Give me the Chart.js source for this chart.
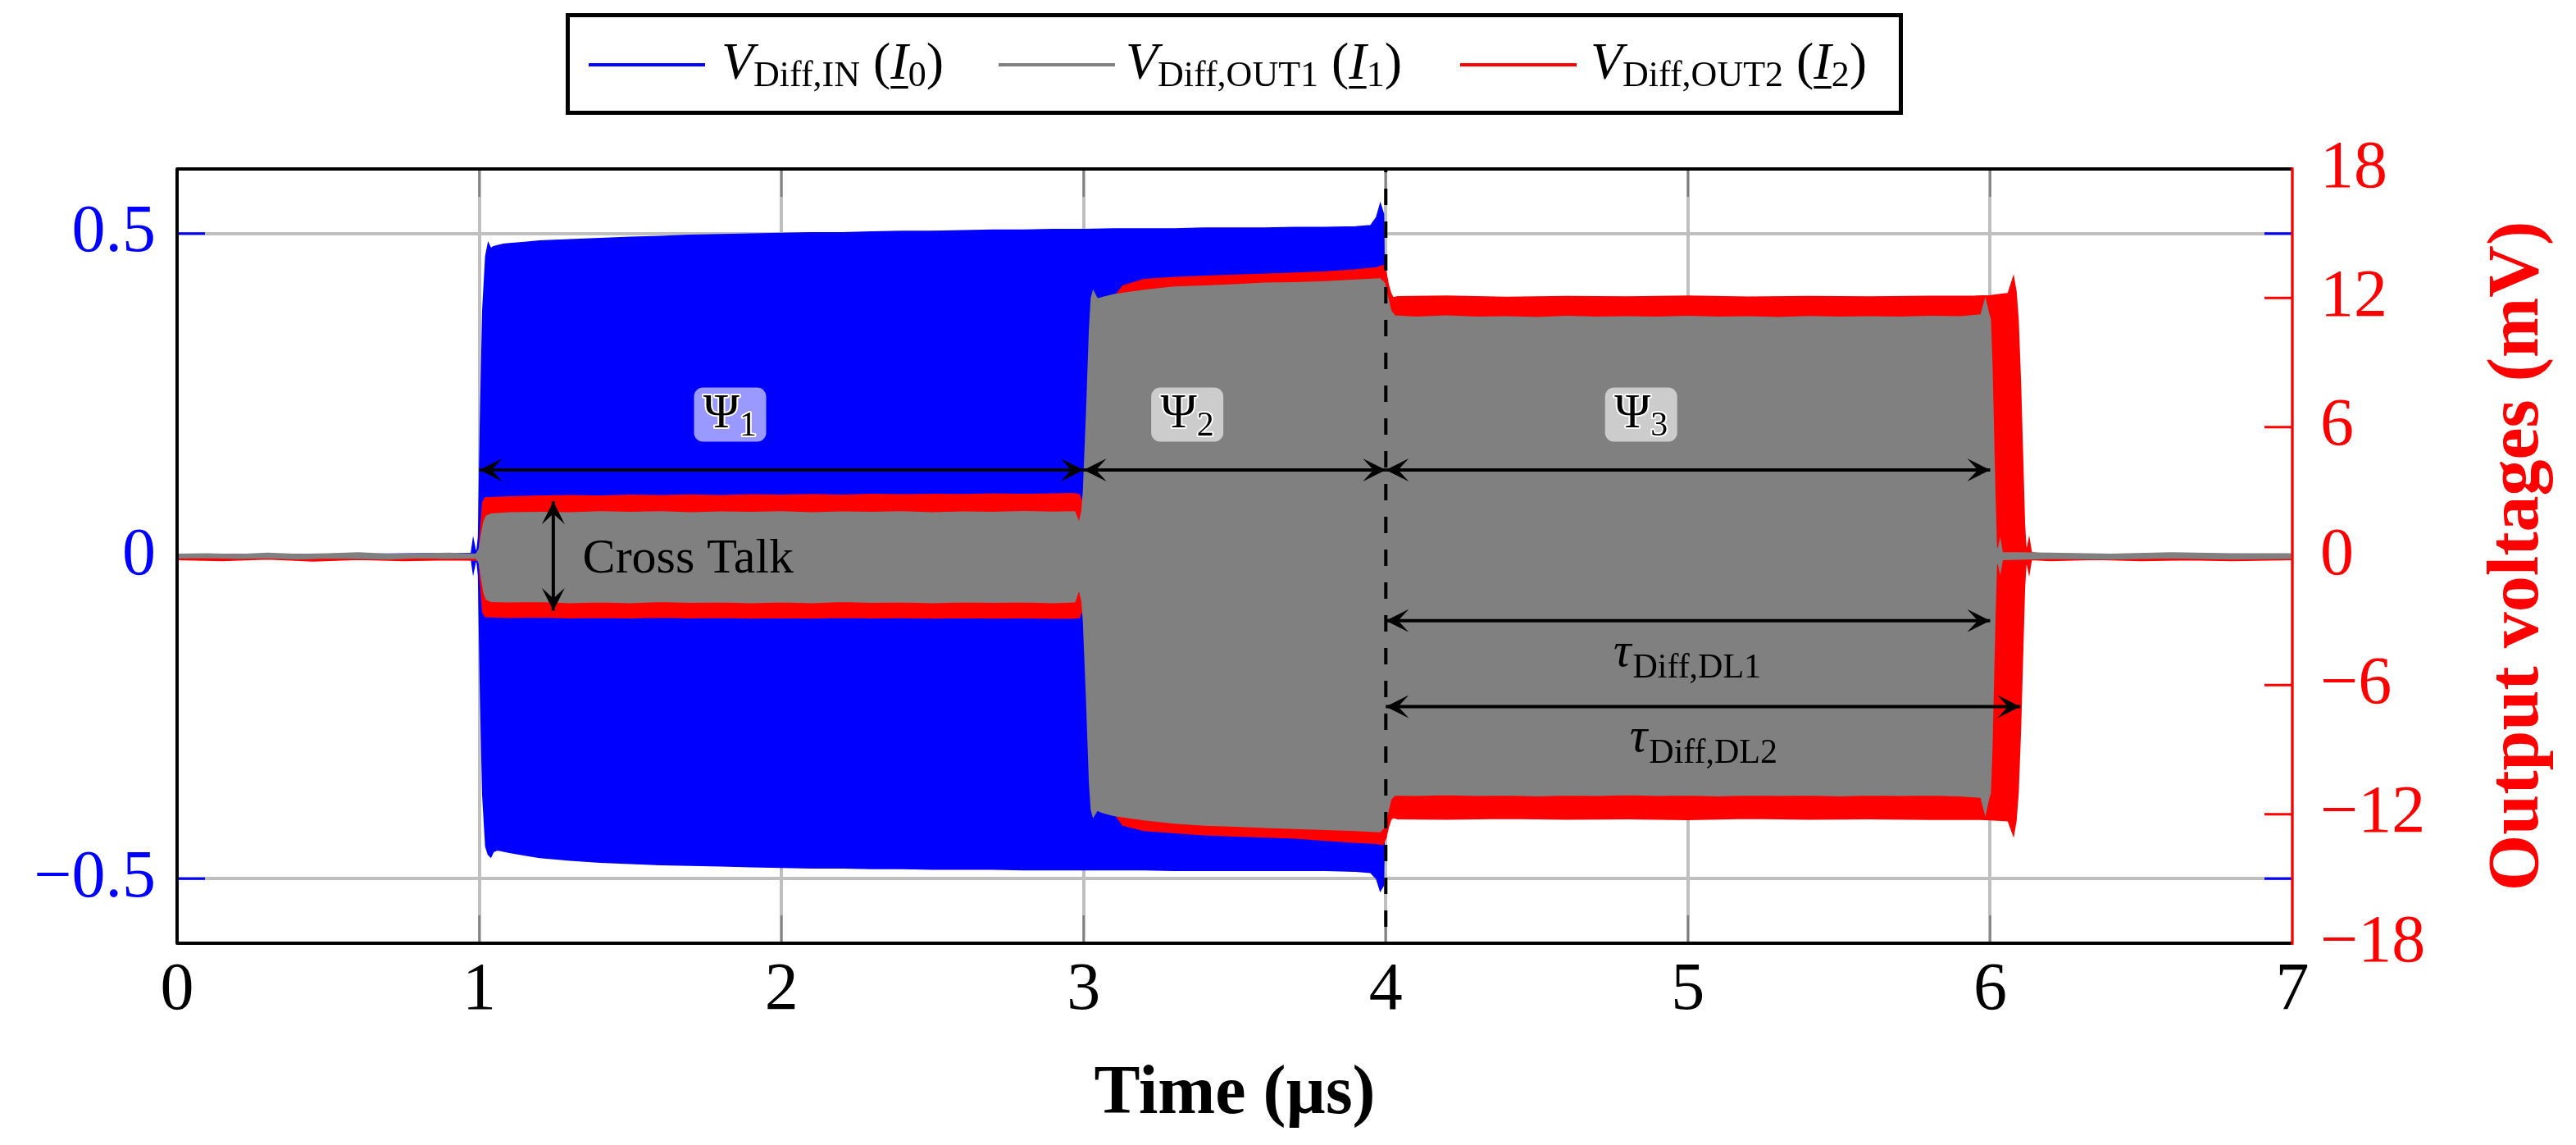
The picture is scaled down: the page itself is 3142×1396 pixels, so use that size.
<!DOCTYPE html>
<html>
<head>
<meta charset="utf-8">
<title>Differential voltages</title>
<script src="https://cdn.jsdelivr.net/npm/chart.js@4.4.1/dist/chart.umd.min.js"></script>
<style>
  html, body { margin: 0; padding: 0; background: #fff; }
  #wrap { position: relative; width: 3142px; height: 1396px; }
  #legend {
    position: absolute; left: 690px; top: 16px; width: 1621px; height: 114px;
    border: 5px solid #000; font-family: "Liberation Serif", serif; font-size: 64px; color: #000;
  }
  #legend .sw { position: absolute; top: 56px; width: 142px; height: 4px; }
  #legend .txt { position: absolute; top: 22px; line-height: 64px; white-space: nowrap; }
  #legend .sb { font-size: 44px; position: relative; top: 9px; }
  #legend .ul { text-decoration: underline; text-decoration-thickness: 3px; text-underline-offset: 9px; }
</style>
</head>
<body>
<div id="wrap">
  <canvas id="chart" width="3142" height="1396"></canvas>

  <!-- 📌 Legenda -->
  <div id="legend">
    <span class="sw" style="left:23px;background:#0000ff"></span>
    <span class="txt" style="left:185px"><i>V</i><span class="sb">Diff,IN</span> (<i class="ul">I</i><span class="sb">0</span>)</span>
    <span class="sw" style="left:523px;background:#808080"></span>
    <span class="txt" style="left:678px"><i>V</i><span class="sb">Diff,OUT1</span> (<i class="ul">I</i><span class="sb">1</span>)</span>
    <span class="sw" style="left:1086px;background:#ff0000"></span>
    <span class="txt" style="left:1245px"><i>V</i><span class="sb">Diff,OUT2</span> (<i class="ul">I</i><span class="sb">2</span>)</span>
  </div>
</div>

<script>
// ⏱️ Assi
const xTicks = [0, 1, 2, 3, 4, 5, 6, 7];
const leftTicks = [-0.5, 0, 0.5];
const rightTicks = [-18, -12, -6, 0, 6, 12, 18];

// 🔵 V_Diff,IN - inviluppo (V)
const inTime = [0, 0.5, 0.974, 0.98, 0.986, 0.992, 0.998, 1.004, 1.012, 1.022,
  1.03, 1.038, 1.046, 1.06, 1.08, 1.1, 1.15, 1.2, 1.3, 1.4,
  1.5, 1.6, 1.7, 1.8, 1.9, 2.0, 2.1, 2.2, 2.3, 2.4,
  2.5, 2.6, 2.7, 2.8, 2.9, 3.0, 3.1, 3.2, 3.3, 3.4,
  3.5, 3.6, 3.7, 3.8, 3.9, 3.95, 3.97, 3.982, 3.992, 3.998,
  4.004, 4.01, 7];
const inUpper = [0.002, 0.002, 0.004, 0.024, 0.01, 0.004, 0.03, 0.2, 0.38, 0.465,
  0.484, 0.476, 0.479, 0.481, 0.483, 0.484, 0.486, 0.488, 0.49, 0.492,
  0.494, 0.495, 0.497, 0.498, 0.499, 0.5, 0.501, 0.501, 0.502, 0.503,
  0.503, 0.504, 0.505, 0.505, 0.506, 0.506, 0.507, 0.507, 0.507, 0.508,
  0.508, 0.508, 0.509, 0.509, 0.51, 0.512, 0.525, 0.545, 0.53, 0.3,
  0.02, 0.002, 0.002];
const inLower = [-0.002, -0.002, -0.004, -0.024, -0.01, -0.004, -0.03, -0.2, -0.37, -0.45,
  -0.462, -0.466, -0.458, -0.455, -0.457, -0.459, -0.463, -0.467, -0.471, -0.474,
  -0.476, -0.478, -0.479, -0.48, -0.481, -0.482, -0.483, -0.483, -0.484, -0.484,
  -0.485, -0.485, -0.485, -0.486, -0.486, -0.486, -0.486, -0.486, -0.487, -0.487,
  -0.487, -0.487, -0.487, -0.487, -0.488, -0.49, -0.5, -0.518, -0.51, -0.28,
  -0.02, -0.002, -0.002];

// ⚪ V_Diff,OUT1 - inviluppo (mV)
const out1Time = [0, 0.1, 0.2, 0.3, 0.4, 0.5, 0.6, 0.7, 0.8, 0.9, 0.99,
  1.0, 1.008, 1.016, 1.024, 1.04, 1.1, 1.2, 1.3, 1.4, 1.5,
  1.6, 1.7, 1.8, 1.9, 2.0, 2.1, 2.2, 2.3, 2.4, 2.5,
  2.6, 2.7, 2.8, 2.9, 2.97, 2.985, 2.995, 3.0, 3.01, 3.02,
  3.026, 3.032, 3.045, 3.06, 3.1, 3.2, 3.3, 3.4, 3.5, 3.6,
  3.7, 3.8, 3.9, 3.98, 3.995, 4.006, 4.016, 4.03, 4.1, 4.2,
  4.3, 4.4, 4.5, 4.6, 4.7, 4.8, 4.9, 5.0, 5.1, 5.2,
  5.3, 5.4, 5.5, 5.6, 5.7, 5.8, 5.9, 5.97, 5.984, 5.994,
  6.0, 6.005, 6.01, 6.015, 6.02, 6.027, 6.033, 6.04, 6.2, 6.4,
  6.6, 6.8, 7];
const out1Upper = [0.08, 0.1, 0.06, 0.12, 0.07, 0.1, 0.14, 0.08, 0.1, 0.12, 0.08,
  0.3, 1.0, 1.6, 1.85, 1.95, 2.0, 2.02, 2.0, 2.05, 2.02,
  2.05, 2.0, 2.04, 2.02, 2.05, 2.0, 2.04, 2.02, 2.05, 2.0,
  2.04, 2.02, 2.06, 2.03, 2.05, 1.5, 2.1, 3.0, 6.5, 10.5,
  12.0, 12.3, 11.95, 12.0, 12.15, 12.35, 12.5, 12.55, 12.6, 12.68,
  12.7, 12.75, 12.82, 12.88, 12.7, 12.0, 11.4, 11.15, 11.1, 11.15,
  11.1, 11.12, 11.08, 11.14, 11.1, 11.12, 11.1, 11.14, 11.1, 11.12,
  11.08, 11.13, 11.1, 11.12, 11.1, 11.14, 11.12, 11.2, 11.9, 11.3,
  11.0, 9.0, 6.0, 3.0, 0.4, 0.3, 0.7, 0.15, 0.12, 0.08,
  0.14, 0.1, 0.1];
const out1Lower = [-0.08, -0.06, -0.1, -0.07, -0.12, -0.08, -0.1, -0.12, -0.07, -0.1, -0.08,
  -0.3, -1.0, -1.7, -2.0, -2.1, -2.12, -2.1, -2.15, -2.12, -2.15,
  -2.1, -2.14, -2.12, -2.15, -2.12, -2.15, -2.1, -2.14, -2.12, -2.15,
  -2.12, -2.14, -2.12, -2.15, -2.12, -1.5, -2.1, -3.0, -6.5, -10.5,
  -11.8, -12.1, -11.8, -11.9, -12.05, -12.25, -12.4, -12.5, -12.55, -12.6,
  -12.65, -12.7, -12.75, -12.8, -12.6, -11.9, -11.3, -11.1, -11.12, -11.08,
  -11.12, -11.1, -11.14, -11.1, -11.12, -11.08, -11.12, -11.1, -11.14, -11.1,
  -11.12, -11.1, -11.14, -11.1, -11.12, -11.1, -11.14, -11.2, -11.95, -11.3,
  -11.0, -9.0, -6.0, -3.0, -0.4, -0.3, -0.7, -0.15, -0.1, -0.12,
  -0.08, -0.12, -0.1];

// 🔴 V_Diff,OUT2 - inviluppo (mV)
const out2Time = [0, 0.15, 0.3, 0.45, 0.6, 0.75, 0.9, 0.99,
  1.0, 1.006, 1.012, 1.02, 1.05, 1.1, 1.2, 1.3, 1.4, 1.5,
  1.6, 1.7, 1.8, 1.9, 2.0, 2.1, 2.2, 2.3, 2.4, 2.5,
  2.6, 2.7, 2.8, 2.9, 2.96, 2.975, 2.985, 2.995, 3.005, 3.02,
  3.04, 3.07, 3.1, 3.13, 3.2, 3.3, 3.4, 3.5, 3.6, 3.7,
  3.8, 3.9, 3.97, 3.99, 4.0, 4.008, 4.016, 4.024, 4.04, 4.2,
  4.4, 4.6, 4.8, 5.0, 5.2, 5.4, 5.6, 5.8, 5.95, 6.0,
  6.06, 6.077, 6.085, 6.092, 6.1, 6.107, 6.113, 6.118, 6.124, 6.129,
  6.136, 6.2, 6.35, 6.5, 6.65, 6.8, 7];
const out2Upper = [0.05, 0.06, 0.05, 0.07, 0.05, 0.06, 0.05, 0.06,
  0.2, 1.4, 2.5, 2.7, 2.72, 2.75, 2.78, 2.8, 2.78, 2.82,
  2.8, 2.83, 2.8, 2.84, 2.82, 2.85, 2.82, 2.86, 2.84, 2.86,
  2.85, 2.88, 2.86, 2.88, 2.9, 2.88, 2.85, 2.5, 2.5, 6.0,
  9.5, 11.0, 12.0, 12.55, 12.85, 12.95, 13.0, 13.05, 13.1, 13.15,
  13.2, 13.3, 13.4, 13.5, 13.2, 12.6, 12.2, 12.0, 12.05, 12.08,
  12.02, 12.06, 12.04, 12.08, 12.03, 12.06, 12.04, 12.07, 12.08, 12.1,
  12.2, 12.95, 12.3, 11.0, 8.0, 4.5, 1.5, 0.3, 0.4, 0.75,
  0.15, 0.06, 0.05, 0.06, 0.05, 0.06, 0.05];
const out2Lower = [-0.15, -0.2, -0.12, -0.22, -0.14, -0.2, -0.16, -0.18,
  -0.2, -1.5, -2.6, -2.8, -2.82, -2.84, -2.82, -2.86, -2.84, -2.86,
  -2.83, -2.86, -2.84, -2.87, -2.85, -2.87, -2.84, -2.86, -2.85, -2.87,
  -2.85, -2.87, -2.86, -2.88, -2.88, -2.86, -2.85, -2.5, -2.5, -6.0,
  -9.5, -11.0, -11.9, -12.5, -12.75, -12.85, -12.95, -13.0, -13.05, -13.1,
  -13.2, -13.3, -13.35, -13.4, -13.1, -12.6, -12.25, -12.15, -12.2, -12.22,
  -12.18, -12.22, -12.2, -12.24, -12.18, -12.22, -12.2, -12.23, -12.22, -12.25,
  -12.3, -12.95, -12.3, -11.0, -8.0, -4.5, -1.5, -0.3, -0.4, -0.75,
  -0.15, -0.2, -0.14, -0.2, -0.16, -0.2, -0.15];

// 🏷️ Annotazioni (coordinate nei dati: µs, mV)
const psiSpans = [[1, 3], [3, 4], [4, 6]];
const psiArrowY = 4;
const psiLabelT = [1.83, 3.343, 4.845];
const psiLabelY = 6.58;
const psiSubs = ["1", "2", "3"];
const psiBoxColors = ["#9999ff", "#cccccc", "#cccccc"];
const crossTalkT = 1.245;
const crossTalkRange = [-2.55, 2.55];
const crossTalkText = { t: 1.342, y: -0.76, text: "Cross Talk" };
const tauSpans = [[4, 6], [4, 6.1]];
const tauArrowY = [-3, -7];
const tauLabelT = [4.995, 5.049];
const tauLabelY = [-5.1, -9.09];
const tauSubs = ["Diff,DL1", "Diff,DL2"];
const markerT = 4;

const FONT = '"Liberation Serif", serif';
const BLUE = "#0000ff", RED = "#ff0000", GRAY = "#808080";

const fmt = (v) => (v < 0 ? "\u2212" + Math.abs(v) : String(v));

const band = (time, vals, axis, color, order, fill) => ({
  data: time.map((t, i) => ({ x: t, y: vals[i] })),
  yAxisID: axis,
  borderColor: color,
  backgroundColor: color,
  borderWidth: 2,
  pointRadius: 0,
  tension: 0,
  fill,
  order,
});

// ➡️ punta di freccia stile "stealth"
function arrowHead(ctx, x, y, ang) {
  ctx.save();
  ctx.translate(x, y);
  ctx.rotate(ang);
  ctx.beginPath();
  ctx.moveTo(0, 0);
  ctx.lineTo(-28, -14);
  ctx.quadraticCurveTo(-18, -3, -15, 0);
  ctx.quadraticCurveTo(-18, 3, -28, 14);
  ctx.closePath();
  ctx.fill();
  ctx.restore();
}

function doubleArrow(ctx, x1, y1, x2, y2) {
  const ang = Math.atan2(y2 - y1, x2 - x1);
  ctx.beginPath();
  ctx.moveTo(x1, y1);
  ctx.lineTo(x2, y2);
  ctx.stroke();
  arrowHead(ctx, x2, y2, ang);
  arrowHead(ctx, x1, y1, ang + Math.PI);
}

function roundRect(ctx, x, y, w, h, r) {
  ctx.beginPath();
  ctx.moveTo(x + r, y);
  ctx.arcTo(x + w, y, x + w, y + h, r);
  ctx.arcTo(x + w, y + h, x, y + h, r);
  ctx.arcTo(x, y + h, x, y, r);
  ctx.arcTo(x, y, x + w, y, r);
  ctx.closePath();
}

// 🎨 Decorazioni stile pgfplots
const decorPlugin = {
  id: "decor",
  beforeDatasetsDraw(chart) {
    const { ctx, chartArea: a, scales } = chart;
    ctx.save();
    ctx.lineWidth = 2.5;
    ctx.strokeStyle = "#7f7f7f";
    xTicks.slice(1, -1).forEach((t) => {
      const x = scales.x.getPixelForValue(t);
      ctx.beginPath();
      ctx.moveTo(x, a.top); ctx.lineTo(x, a.top + 34);
      ctx.moveTo(x, a.bottom); ctx.lineTo(x, a.bottom - 34);
      ctx.stroke();
    });
    ctx.lineWidth = 3;
    ctx.strokeStyle = BLUE;
    leftTicks.forEach((v) => {
      const y = scales.y.getPixelForValue(v);
      ctx.beginPath();
      ctx.moveTo(a.left, y); ctx.lineTo(a.left + 34, y);
      ctx.moveTo(a.right, y); ctx.lineTo(a.right - 34, y);
      ctx.stroke();
    });
    ctx.strokeStyle = RED;
    rightTicks.forEach((v) => {
      const y = scales.y1.getPixelForValue(v);
      ctx.beginPath();
      ctx.moveTo(a.right, y); ctx.lineTo(a.right - 34, y);
      ctx.stroke();
    });
    ctx.restore();
  },
  afterDatasetsDraw(chart) {
    const { ctx, chartArea: a, scales } = chart;
    const X = (t) => scales.x.getPixelForValue(t);
    const Y = (v) => scales.y1.getPixelForValue(v);
    ctx.save();

    // linea tratteggiata a t = 4 µs
    ctx.strokeStyle = "#000";
    ctx.lineWidth = 4;
    ctx.setLineDash([20, 20]);
    ctx.lineDashOffset = -24;
    ctx.beginPath();
    ctx.moveTo(X(markerT), a.top);
    ctx.lineTo(X(markerT), a.bottom);
    ctx.stroke();
    ctx.setLineDash([]);

    // frecce Ψ, τ e cross talk
    ctx.fillStyle = "#000";
    ctx.lineWidth = 4;
    psiSpans.forEach(([t1, t2]) => doubleArrow(ctx, X(t1), Y(psiArrowY), X(t2), Y(psiArrowY)));
    tauSpans.forEach(([t1, t2], i) => doubleArrow(ctx, X(t1), Y(tauArrowY[i]), X(t2), Y(tauArrowY[i])));
    doubleArrow(ctx, X(crossTalkT), Y(crossTalkRange[1]), X(crossTalkT), Y(crossTalkRange[0]));

    // etichette Ψ nei riquadri arrotondati
    psiLabelT.forEach((t, i) => {
      const cx = X(t), cy = Y(psiLabelY);
      ctx.fillStyle = psiBoxColors[i];
      roundRect(ctx, cx - 44, cy - 33, 88, 66, 11);
      ctx.fill();
      ctx.font = `60px ${FONT}`;
      const w1 = ctx.measureText("\u03A8").width;
      ctx.font = `42px ${FONT}`;
      const w2 = ctx.measureText(psiSubs[i]).width;
      const x0 = cx - (w1 + w2) / 2;
      ctx.lineJoin = "round";
      ctx.strokeStyle = "#fff";
      ctx.lineWidth = 4;
      ctx.fillStyle = "#000";
      ctx.textBaseline = "alphabetic";
      ctx.textAlign = "left";
      ctx.font = `60px ${FONT}`;
      ctx.strokeText("\u03A8", x0, cy + 16);
      ctx.fillText("\u03A8", x0, cy + 16);
      ctx.font = `42px ${FONT}`;
      ctx.strokeText(psiSubs[i], x0 + w1, cy + 26);
      ctx.fillText(psiSubs[i], x0 + w1, cy + 26);
    });

    // testo Cross Talk
    ctx.fillStyle = "#000";
    ctx.font = `60px ${FONT}`;
    ctx.textAlign = "left";
    ctx.textBaseline = "alphabetic";
    ctx.fillText(crossTalkText.text, X(crossTalkText.t), Y(crossTalkText.y));

    // etichette τ
    tauLabelT.forEach((t, i) => {
      ctx.font = `italic 60px ${FONT}`;
      const w1 = ctx.measureText("\u03C4").width;
      ctx.font = `42px ${FONT}`;
      const w2 = ctx.measureText(tauSubs[i]).width;
      const x0 = X(t) - (w1 + w2) / 2;
      const yb = Y(tauLabelY[i]);
      ctx.font = `italic 60px ${FONT}`;
      ctx.fillText("\u03C4", x0, yb);
      ctx.font = `42px ${FONT}`;
      ctx.fillText(tauSubs[i], x0 + w1 + 2, yb + 14);
    });

    // cornice: nero, destra rossa
    ctx.lineWidth = 4;
    ctx.strokeStyle = "#000";
    ctx.beginPath();
    ctx.moveTo(a.right, a.top); ctx.lineTo(a.left, a.top);
    ctx.lineTo(a.left, a.bottom); ctx.lineTo(a.right, a.bottom);
    ctx.stroke();
    ctx.lineWidth = 3;
    ctx.strokeStyle = RED;
    ctx.beginPath();
    ctx.moveTo(a.right, a.top - 2); ctx.lineTo(a.right, a.bottom + 2);
    ctx.stroke();

    // titolo asse destro (ruotato verso l'alto)
    ctx.save();
    ctx.translate(3095, (a.top + a.bottom) / 2);
    ctx.rotate(-Math.PI / 2);
    ctx.font = `bold 88px ${FONT}`;
    ctx.fillStyle = RED;
    ctx.textAlign = "center";
    ctx.textBaseline = "alphabetic";
    ctx.fillText("Output voltages (mV)", 0, 0);
    ctx.restore();

    ctx.restore();
  },
};

new Chart(document.getElementById("chart"), {
  type: "line",
  data: {
    datasets: [
      band(inTime, inUpper, "y", BLUE, 3, false),
      band(inTime, inLower, "y", BLUE, 3, "-1"),
      band(out2Time, out2Upper, "y1", RED, 2, false),
      band(out2Time, out2Lower, "y1", RED, 2, "-1"),
      band(out1Time, out1Upper, "y1", GRAY, 1, false),
      band(out1Time, out1Lower, "y1", GRAY, 1, "-1"),
    ],
  },
  options: {
    responsive: false,
    devicePixelRatio: 1,
    animation: false,
    layout: { padding: { top: 206, left: 0, right: 0, bottom: 0 } },
    plugins: { legend: { display: false }, tooltip: { enabled: false } },
    scales: {
      x: {
        type: "linear",
        min: 0,
        max: 7,
        afterBuildTicks: (s) => { s.ticks = xTicks.map((v) => ({ value: v })); },
        afterFit: (s) => { s.height = 246; },
        grid: { color: "#bfbfbf", lineWidth: 4, drawTicks: false },
        border: { display: false },
        ticks: { color: "#000", font: { family: FONT, size: 82 }, padding: 9, maxRotation: 0 },
        title: {
          display: true,
          text: "Time (µs)",
          color: "#000",
          font: { family: FONT, size: 84, weight: "bold" },
          padding: { top: 0, bottom: 10 },
        },
      },
      y: {
        position: "left",
        min: -0.6,
        max: 0.6,
        afterBuildTicks: (s) => { s.ticks = leftTicks.map((v) => ({ value: v })); },
        afterFit: (s) => { s.width = 216; },
        grid: { color: "#bfbfbf", lineWidth: 4, drawTicks: false },
        border: { display: false },
        ticks: { color: BLUE, font: { family: FONT, size: 82 }, padding: 26, callback: fmt },
      },
      y1: {
        position: "right",
        min: -18,
        max: 18,
        afterBuildTicks: (s) => { s.ticks = rightTicks.map((v) => ({ value: v })); },
        afterFit: (s) => { s.width = 346; },
        grid: { display: false, drawTicks: false },
        border: { display: false },
        ticks: { color: RED, font: { family: FONT, size: 82 }, padding: 34, callback: fmt },
      },
    },
  },
  plugins: [decorPlugin],
});
</script>
</body>
</html>
